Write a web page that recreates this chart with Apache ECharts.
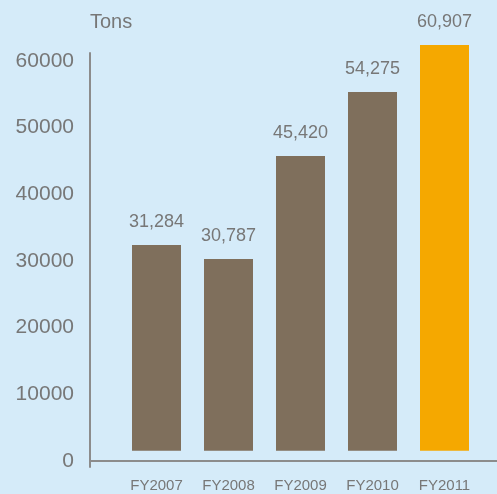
<!DOCTYPE html>
<html>
<head>
<meta charset="utf-8">
<script src="https://cdn.jsdelivr.net/npm/echarts@6/dist/echarts.min.js"></script>
<style>
html,body{margin:0;padding:0;background:#d5ebf9;}
#chart{width:497px;height:494px;}
</style>
</head>
<body>
<div id="chart"></div>
<script>
var categories = ["FY2007", "FY2008", "FY2009", "FY2010", "FY2011"];
// bar heights as drawn in the picture
var barValues = [30850, 28750, 44200, 53800, 60850];
// printed value labels
var labelValues = [31284, 30787, 45420, 54275, 60907];
var barColors = ["#7f6f5c", "#7f6f5c", "#7f6f5c", "#7f6f5c", "#f5a800"];
var yTicks = [0, 10000, 20000, 30000, 40000, 50000, 60000];
var unitLabel = "Tons";

var FONT = "Liberation Sans, Arial, Helvetica, sans-serif";
var TXT = "#777777";
var LINE = "#8c8c8c";

function fmt(v) { return String(v).replace(/\B(?=(\d{3})+(?!\d))/g, ","); }

var chart = echarts.init(document.getElementById("chart"), null, {renderer: "canvas"});
chart.setOption({
  backgroundColor: "#d5ebf9",
  animation: false,
  title: {
    text: unitLabel, left: 90, top: 12, padding: 0,
    textStyle: {fontFamily: FONT, fontSize: 20, fontWeight: "normal", color: TXT}
  },
  grid: [
    {left: 120.5, right: 16.5, top: 50.7, bottom: 43.3},
    {left: 90, right: 0, top: 53, bottom: 27}
  ],
  xAxis: [
    {
      gridIndex: 0, type: "category", data: categories,
      axisLine: {show: false}, axisTick: {show: false},
      axisLabel: {margin: 28, fontFamily: FONT, fontSize: 15, color: TXT}
    },
    {
      gridIndex: 1, type: "value", min: 0, max: 1,
      axisLine: {show: true, lineStyle: {color: LINE, width: 2}},
      axisTick: {show: false}, axisLabel: {show: false}, splitLine: {show: false}
    }
  ],
  yAxis: [
    {
      gridIndex: 0, type: "value", min: 0, max: 60000, show: false,
      splitLine: {show: false}
    },
    {
      gridIndex: 1, type: "value", min: -900, max: 61200,
      axisLine: {show: true, lineStyle: {color: LINE, width: 2}},
      axisTick: {show: false},
      splitLine: {show: false},
      axisLabel: {
        customValues: yTicks, margin: 16,
        fontFamily: FONT, fontSize: 21, color: TXT,
        formatter: function (v) { return String(v); }
      }
    }
  ],
  series: [{
    type: "bar", xAxisIndex: 0, yAxisIndex: 0,
    barWidth: 49, clip: false,
    data: barValues.map(function (v, i) { return {value: v, itemStyle: {color: barColors[i]}}; }),
    label: {
      show: true, position: "top", distance: 14,
      fontFamily: FONT, fontSize: 18, color: TXT,
      formatter: function (p) { return fmt(labelValues[p.dataIndex]); }
    }
  }]
});
</script>
</body>
</html>
